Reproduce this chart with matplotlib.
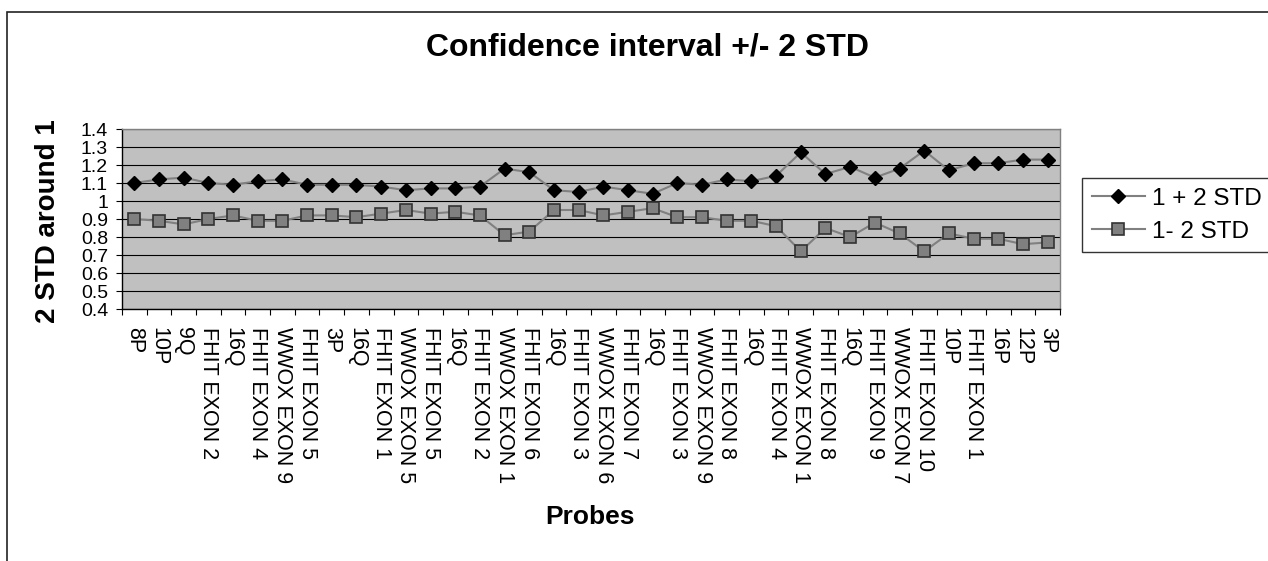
import matplotlib
matplotlib.use('Agg')
import matplotlib.pyplot as plt
import numpy as np
from matplotlib.patches import Rectangle
from matplotlib.ticker import FixedLocator

plt.rcParams['font.family'] = ['Liberation Sans', 'DejaVu Sans']

probes = ['8P', '10P', '9Q', 'FHIT EXON 2', '16Q', 'FHIT EXON 4', 'WWOX EXON 9',
          'FHIT EXON 5', '3P', '16Q', 'FHIT EXON 1', 'WWOX EXON 5', 'FHIT EXON 5',
          '16Q', 'FHIT EXON 2', 'WWOX EXON 1', 'FHIT EXON 6', '16Q', 'FHIT EXON 3',
          'WWOX EXON 6', 'FHIT EXON 7', '16Q', 'FHIT EXON 3', 'WWOX EXON 9',
          'FHIT EXON 8', '16Q', 'FHIT EXON 4', 'WWOX EXON 1', 'FHIT EXON 8', '16Q',
          'FHIT EXON 9', 'WWOX EXON 7', 'FHIT EXON 10', '10P', 'FHIT EXON 1',
          '16P', '12P', '3P']

upper = [1.10, 1.12, 1.13, 1.10, 1.09, 1.11, 1.12, 1.09, 1.09, 1.09, 1.08, 1.06,
         1.07, 1.07, 1.08, 1.18, 1.16, 1.06, 1.05, 1.08, 1.06, 1.04, 1.10, 1.09,
         1.12, 1.11, 1.14, 1.27, 1.15, 1.19, 1.13, 1.18, 1.28, 1.17, 1.21, 1.21,
         1.23, 1.23]
lower = [0.90, 0.89, 0.87, 0.90, 0.92, 0.89, 0.89, 0.92, 0.92, 0.91, 0.93, 0.95,
         0.93, 0.94, 0.92, 0.81, 0.83, 0.95, 0.95, 0.92, 0.94, 0.96, 0.91, 0.91,
         0.89, 0.89, 0.86, 0.72, 0.85, 0.80, 0.88, 0.82, 0.72, 0.82, 0.79, 0.79,
         0.76, 0.77]
yticks = [0.4, 0.5, 0.6, 0.7, 0.8, 0.9, 1, 1.1, 1.2, 1.3, 1.4]

W, H = 1268, 561
fig = plt.figure(figsize=(W / 100, H / 100), dpi=100)
ax = fig.add_axes([122 / W, 1 - 309 / H, (1060 - 122) / W, (309 - 129) / H])
ax.set_facecolor('#C0C0C0')

x = np.arange(len(probes))
l1, = ax.plot(x, upper, color='#808080', lw=1.5, marker='D', ms=7,
              mfc='black', mec='black', zorder=3)
l2, = ax.plot(x, lower, color='#808080', lw=1.5, marker='s', ms=8.5,
              mfc='#808080', mec='#333333', mew=1.2, zorder=3)

ax.set_xlim(-0.5, len(probes) - 0.5)
ax.set_ylim(0.4, 1.4)
ax.set_yticks(yticks)
ax.set_yticklabels([f'{v:g}' for v in yticks], fontsize=14)
ax.yaxis.grid(True, color='black', lw=0.8)
ax.set_axisbelow(True)
ax.tick_params(axis='y', direction='out', length=4, width=0.8, pad=6)

ax.set_xticks(x)
ax.set_xticklabels(probes, rotation=-90, fontsize=15.5, va='top', ha='center')
ax.tick_params(axis='x', which='major', length=0, pad=13)
ax.xaxis.set_minor_locator(FixedLocator(np.arange(-0.5, len(probes), 1)))
ax.tick_params(axis='x', which='minor', direction='out', length=4, width=0.8)

for s in ['top', 'right']:
    ax.spines[s].set_color('#808080')
for s in ['left', 'bottom']:
    ax.spines[s].set_color('black')
for s in ax.spines.values():
    s.set_linewidth(1)

fig.text(647 / W, 1 - 47 / H, 'Confidence interval +/- 2 STD', fontsize=23,
         fontweight='bold', ha='center', va='center')
fig.text(48 / W, 1 - 221 / H, '2 STD around 1', fontsize=20, fontweight='bold',
         rotation=90, ha='center', va='center')
fig.text(590 / W, 1 - 517 / H, 'Probes', fontsize=19, fontweight='bold',
         ha='center', va='center')

leg = fig.legend([l1, l2], ['1 + 2 STD', '1- 2 STD'], loc='upper left',
                 bbox_to_anchor=(1082 / W, 1 - 178 / H), fontsize=17.5,
                 frameon=True, fancybox=False, borderaxespad=0,
                 handlelength=2.2, handletextpad=0.3, labelspacing=0.45,
                 borderpad=0.4)
leg.get_frame().set_edgecolor('black')
leg.get_frame().set_linewidth(1)

fig.patches.append(Rectangle((7 / W, -0.1), 1.2, 1 - 12 / H + 0.1,
                             transform=fig.transFigure, fill=False,
                             edgecolor='#222222', lw=1.2))

fig.savefig('out.png', dpi=100)
